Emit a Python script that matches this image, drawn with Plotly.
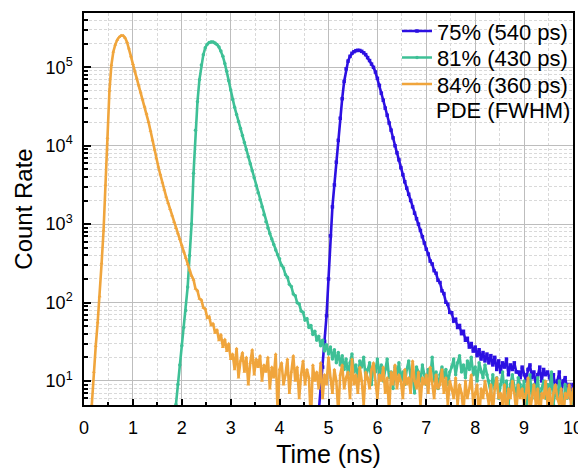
import numpy as np
import plotly.graph_objects as go

STEP = 0.04  # histogram bin width (ns)

# ---- 84% PDE (360 ps) : orange ----
orange_seg_starts = [0.16, 3.04, 3.72, 4.72, 7.52]
orange_main = [5, 13, 28, 56, 120, 316, 830, 3160, 12600, 50100,
               107000, 158000, 195000, 224000, 243000, 254000, 253500, 238000, 209000, 174000,
               138000, 110000, 89100, 72400, 58900, 47900, 38900, 31600, 25700, 20000,
               15500, 11700, 8900, 6900, 5400, 4300, 3400, 2750, 2240, 1860,
               1550, 1290, 1070, 890, 760, 645, 537, 447, 372, 309,
               257, 219, 195, 150, 142, 112, 108, 86, 83, 64,
               66, 51, 54, 41, 45, 33, 39, 27, 34, 24, 30, 19]
orange_tail1 = [22, 14, 26, 11, 18, 23, 13, 20, 9, 17, 25, 12, 19, 15, 21, 10, 16]
orange_tail2 = [13, 20, 8, 15, 11, 22, 4, 14, 17, 9, 12, 19, 7, 13, 21, 10, 15, 6, 12, 18,
                9, 14, 11, 3, 16]
orange_tail3 = [10, 13, 8, 17, 6, 12, 9, 20, 11, 7, 14, 10, 4, 12, 16, 8, 11, 13, 6, 19,
                9, 12, 7, 15, 10, 5, 13, 11, 8, 14, 17, 9, 6, 12, 10, 15, 7, 11, 4, 13,
                9, 16, 8, 12, 10, 6, 14, 9, 11, 7, 18, 10, 8, 13, 5, 11, 9, 12, 7, 15,
                10, 6, 12, 8, 9, 14, 7, 11, 5, 10]
orange_tail4 = [8, 6, 11, 5, 9, 7, 4, 10, 6, 8, 12, 5, 7, 9, 3, 8, 6, 10, 7, 5,
                9, 4, 8, 11, 6, 7, 5, 9, 3, 8, 6, 10, 7, 4, 9, 6, 8, 5, 7, 11,
                4, 6, 9, 5, 8, 3, 7, 6, 10, 5, 8, 4, 7, 9, 6, 5, 8, 3, 7, 6, 9, 5, 8]

# ---- 81% PDE (430 ps) : green ----
green_seg_starts = [1.88, 3.32, 4.00, 5.32, 6.04, 7.52, 8.28]
green_main = [5, 9, 16, 28, 48, 79, 158, 398, 1000, 4470,
              15800, 36300, 69200, 107000, 145000, 178000, 197000, 207000, 211000, 210000,
              204000, 195000, 182000, 162000, 138000, 112000, 89100, 67600, 51300, 38900,
              30900, 25100, 20400, 16600, 13500, 11000]
green_fall = [8910, 7240, 5890, 4790, 3890, 3090, 2510, 2040, 1660, 1320,
              1070, 891, 759, 646, 550, 468, 407]
green_tail1 = [362, 298, 275, 226, 210, 171, 160, 128, 122, 99,
               96, 78, 75, 60, 62, 48, 51, 39, 43, 33,
               37, 28, 33, 24, 29, 22, 27, 19, 25, 17, 23, 16, 21]
green_tail2 = [14, 19, 12, 17, 22, 13, 16, 10, 18, 15, 20, 11, 14, 17, 9, 16, 13, 19]
green_tail3 = [12, 16, 10, 14, 19, 11, 13, 8, 15, 12, 17, 10, 13, 9, 14, 18, 11, 12, 7, 15,
               13, 10, 16, 12, 9, 14, 11, 20, 10, 13, 8, 12, 15, 11, 14, 9, 13]
green_tail4 = [15, 19, 12, 17, 21, 13, 16, 11, 18, 14, 20, 12, 15, 10, 17, 13, 11, 16, 12]
green_tail5 = [10, 7, 12, 8, 11, 6, 9, 13, 7, 10, 5, 9, 12, 8, 6, 11, 9, 7, 10, 4,
               8, 12, 6, 9, 7, 11, 5, 8, 10, 6, 9, 7, 13, 5, 8, 6, 10, 7, 4, 9, 6, 8, 7, 5]

# ---- 75% PDE (540 ps) : blue ----
blue_seg_starts = [4.80, 5.92, 8.44, 8.88]
blue_main = [4, 8, 15, 32, 68, 200, 708, 1660, 3160, 6170,
             11700, 22400, 39800, 66100, 95500, 120000, 138000, 151000, 158000, 163000,
             165000, 164000, 160000, 153000, 145000, 133000, 122000, 110000]
blue_fall = [100000, 87100, 72400, 58900, 46800, 38000, 30200, 24500, 19500, 15800,
             12600, 10000, 8130, 6610, 5250, 4270, 3470, 2880, 2400, 2000,
             1660, 1380, 1170, 1000, 832, 692, 575, 479, 415, 338,
             310, 255, 236, 192, 180, 141, 130, 101, 95, 75,
             74, 58, 61, 48, 51, 40, 43, 33, 35, 27,
             30, 24, 27, 21, 25, 19, 23, 18, 22, 17, 21, 16, 20]
blue_tail1 = [14, 18, 13, 17, 15, 19, 12, 16, 14, 17, 13]
blue_tail2 = [13, 11, 15, 12, 10, 14, 16, 11, 13, 9, 12, 15, 10, 14, 12, 13,
              11, 9, 12, 8, 10, 13, 7, 10, 11, 8, 9, 6, 9]

series_names = ["75% (540 ps)", "81% (430 ps)", "84% (360 ps)"]
series_colors = ["#2C10E2", "#3EC096", "#F0A53C"]
series_symbols = ["square", "circle", "triangle-up"]
legend_note = "PDE (FWHM)"

x_tickvals = list(range(0, 11))
y_tickvals = [10, 100, 1000, 10000, 100000]
y_ticktext = ["10<sup>1</sup>", "10<sup>2</sup>", "10<sup>3</sup>", "10<sup>4</sup>", "10<sup>5</sup>"]


def build(starts, segments):
    xs, ys = [], []
    for s, seg in zip(starts, segments):
        xs.append(s + STEP * np.arange(len(seg)))
        ys.append(np.array(seg, dtype=float))
    return np.concatenate(xs), np.concatenate(ys)


data = [
    build(blue_seg_starts, [blue_main, blue_fall, blue_tail1, blue_tail2]),
    build(green_seg_starts, [green_main, green_fall, green_tail1, green_tail2,
                             green_tail3, green_tail4, green_tail5]),
    build(orange_seg_starts, [orange_main, orange_tail1, orange_tail2, orange_tail3, orange_tail4]),
]

FONT = "Arial, Liberation Sans, sans-serif"
legend_ids = ["legend", "legend2", "legend3"]
legend_rows_y = [0.9537, 0.8861, 0.8185]   # paper y of each legend row
note_row_y = 0.7511

fig = go.Figure()
for (x, y), name, col, sym, lg in zip(data, series_names, series_colors, series_symbols, legend_ids):
    fig.add_trace(go.Scatter(
        x=x, y=y, name=name, mode="lines+markers", legend=lg,
        line=dict(color=col, width=2.6),
        marker=dict(color=col, size=3.5, symbol=sym),
    ))

minor_y = [5, 6, 7, 8, 9]
for dec in [10, 100, 1000, 10000, 100000]:
    for m in range(2, 10):
        minor_y.append(m * dec)

legend_common = dict(x=1.0, xanchor="right", yanchor="middle",
                     bgcolor="rgba(0,0,0,0)", font=dict(size=22, family=FONT))

# page body adds an 8px offset, so the figure is 8px smaller on each axis
fig.update_layout(
    width=578, height=467,
    margin=dict(l=76, r=13, t=2, b=70),
    paper_bgcolor="white", plot_bgcolor="white",
    font=dict(family=FONT, color="black"),
    showlegend=True,
    legend=dict(y=legend_rows_y[0], **legend_common),
    legend2=dict(y=legend_rows_y[1], **legend_common),
    legend3=dict(y=legend_rows_y[2], **legend_common),
    annotations=[dict(text=legend_note, x=0.997, xref="paper", xanchor="right",
                      y=note_row_y, yref="paper", yanchor="middle", showarrow=False,
                      font=dict(size=22, family=FONT))],
)
fig.update_xaxes(
    range=[0, 10], tickvals=x_tickvals, ticks="inside", ticklen=6, tickwidth=1.5,
    tickcolor="black", showline=True, linecolor="black", linewidth=1.5, mirror=True,
    showgrid=True, gridcolor="#BDBDBD", gridwidth=1, zeroline=False, automargin=False,
    tickfont=dict(size=18, family=FONT), ticklabelstandoff=6,
    title=dict(text="Time (ns)", font=dict(size=25, family=FONT), standoff=8),
    minor=dict(dtick=0.5, tick0=0, ticks="inside", ticklen=3, tickcolor="black",
               showgrid=True, gridcolor="#D9D9D9", griddash="3px,2px", gridwidth=1),
)
fig.update_yaxes(
    type="log", range=[np.log10(4.93), np.log10(4.93e5)],
    tickvals=y_tickvals, ticktext=y_ticktext, ticks="inside", ticklen=7, tickwidth=1.5,
    tickcolor="black", showline=True, linecolor="black", linewidth=1.5, mirror=True,
    showgrid=True, gridcolor="#BDBDBD", gridwidth=1, zeroline=False, automargin=False,
    tickfont=dict(size=18, family=FONT), ticklabelstandoff=6,
    title=dict(text="Count Rate", font=dict(size=24, family=FONT), standoff=6),
    minor=dict(tickmode="array", tickvals=minor_y, ticks="inside", ticklen=4,
               tickcolor="black", showgrid=True, gridcolor="#D9D9D9",
               griddash="3px,2px", gridwidth=1),
)

fig.write_html("out.html")
